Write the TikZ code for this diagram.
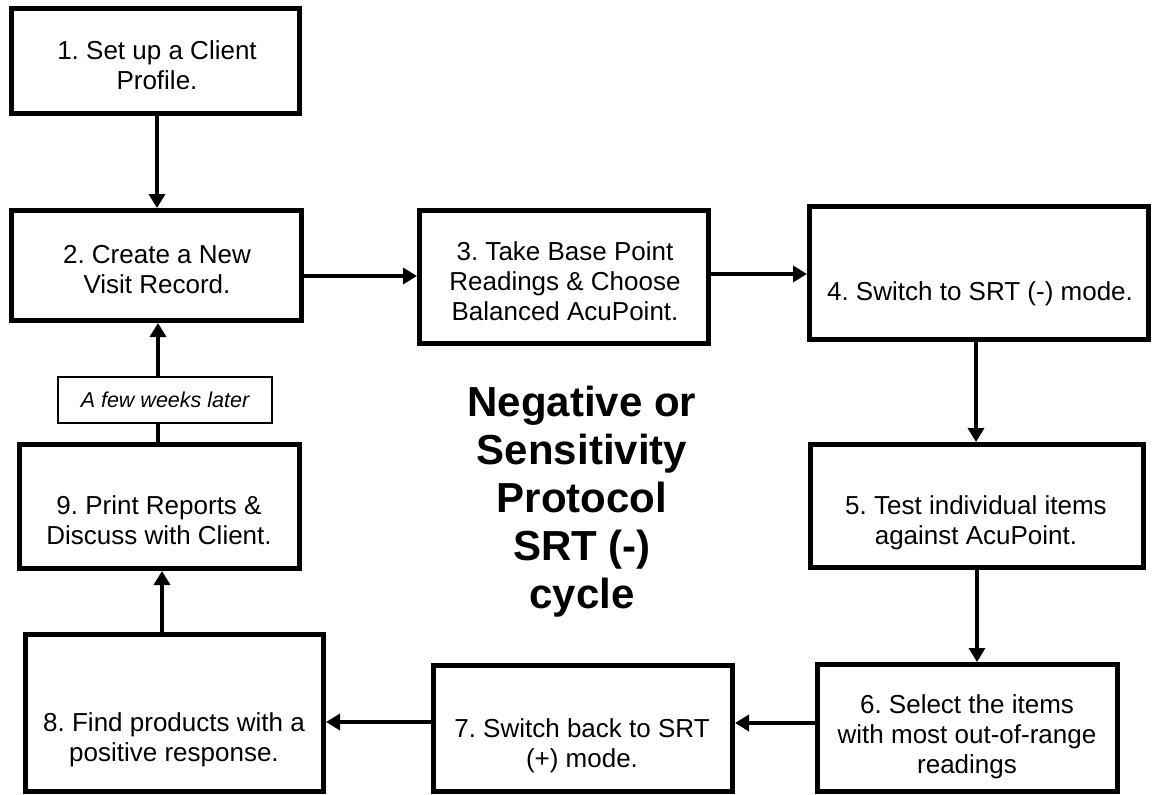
\documentclass[tikz,border=0pt]{standalone}
\usepackage{fontspec}
\setmainfont{Liberation Sans}
\usetikzlibrary{arrows.meta}
\frenchspacing
\begin{document}
\frenchspacing
\begin{tikzpicture}[x=1pt,y=-1pt,
  box/.style={draw=black, line width=5pt, rectangle, inner sep=0pt, fill=white},
  txt/.style={align=center, font=\frenchspacing\fontsize{26}{30}\selectfont, inner sep=0pt},
  arr/.style={line width=4pt, -{Triangle[length=14pt,width=16pt]}},
  plainline/.style={line width=4pt},
  lbl/.style={draw=black, line width=1.3pt, fill=white, inner sep=0pt,
    font=\itshape\fontsize{21.5}{25}\selectfont},
  title/.style={align=center, inner sep=0pt, font=\bfseries\fontsize{42}{48}\selectfont}
  ]
\useasboundingbox (0,0) rectangle (1152,795);
\fill[white] (0,0) rectangle (1152,795);

% boxes
\node[box, minimum width=288pt, minimum height=105pt] (b1) at (155.5,61) {};
\node[box, minimum width=290pt, minimum height=110pt] (b2) at (156.5,265.5) {};
\node[box, minimum width=289pt, minimum height=133pt] (b3) at (564,277) {};
\node[box, minimum width=339pt, minimum height=133pt] (b4) at (979,273) {};
\node[box, minimum width=333pt, minimum height=123pt] (b5) at (977,506) {};
\node[box, minimum width=300pt, minimum height=127pt] (b6) at (967.5,728) {};
\node[box, minimum width=299pt, minimum height=126pt] (b7) at (583,728.5) {};
\node[box, minimum width=298pt, minimum height=157pt] (b8) at (174.5,713) {};
\node[box, minimum width=280pt, minimum height=124pt] (b9) at (159.5,506.5) {};

% texts
\node[txt] (t1) at (157,65) {1. Set up a Client\\Profile.};
\node[txt] (t2) at (157,270) {2. Create a New\\Visit Record.};
\node[txt] (t3) at (565,281) {3. Take Base Point\\Readings \& Choose\\Balanced AcuPoint.};
\node[txt] (t4) at (980,294) {4. Switch to SRT (-) mode.};
\node[txt] (t5) at (976,522.5) {5. Test individual items\\against AcuPoint.};
\node[txt] (t6) at (967,736.5) {6. Select the items\\with most out-of-range\\readings};
\node[txt] (t7) at (582,746) {7. Switch back to SRT\\(+) mode.};
\node[txt] (t8) at (174,739.5) {8. Find products with a\\positive response.};
\node[txt] (t9) at (159,520.5) {9. Print Reports \&\\Discuss with Client.};

\node[title] (ttl) at (582,502) {Negative or\\Sensitivity\\Protocol\\SRT (-)\\cycle};

% label
\node[lbl, minimum width=214pt, minimum height=46pt] (lab) at (165,400) {A few weeks later};

% connectors
\draw[arr] (b1.south -| 157,0) -- (b2.north -| 157,0);
\draw[arr] (b2.east |- 0,276) -- (b3.west |- 0,276);
\draw[arr] (b3.east |- 0,274) -- (b4.west |- 0,274);
\draw[arr] (b4.south -| 976,0) -- (b5.north -| 976,0);
\draw[arr] (b5.south -| 977,0) -- (b6.north -| 977,0);
\draw[arr] (b6.west |- 0,723) -- (b7.east |- 0,723);
\draw[arr] (b7.west |- 0,722) -- (b8.east |- 0,722);
\draw[arr] (b8.north -| 162,0) -- (b9.south -| 162,0);
\draw[plainline] (b9.north -| 158,0) -- (lab.south -| 158,0);
\draw[arr] (lab.north -| 158,0) -- (b2.south -| 158,0);
\end{tikzpicture}
\end{document}
